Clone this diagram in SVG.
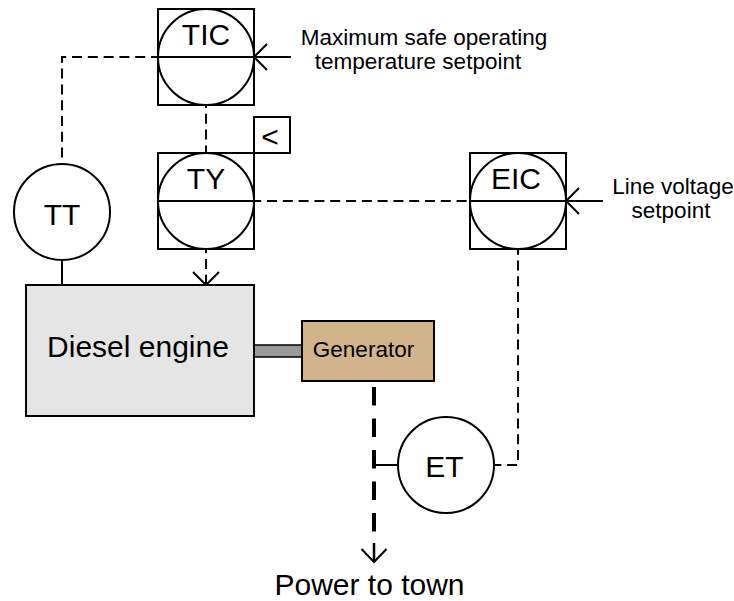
<svg xmlns="http://www.w3.org/2000/svg" width="734" height="601" viewBox="0 0 734 601">
<style>
.s{fill:none;stroke:#000;stroke-width:2}
.n{fill:#fff;stroke:#000;stroke-width:2}
.d{fill:none;stroke:#000;stroke-width:2;stroke-dasharray:10 5.800}
.t{font-family:"Liberation Sans",Arial,sans-serif;fill:#000;text-anchor:middle}
.b{font-size:30px}
.m{font-size:22.500px}
</style>
<rect width="734" height="601" fill="#fff"/>
<g id="connectors">
<path class="d" stroke-dashoffset="3" d="M158 57H62V164"/>
<path class="d" stroke-dashoffset="7" d="M206 105V153"/>
<path class="d" stroke-dashoffset="2.800" d="M254 201H470"/>
<path class="d" stroke-dashoffset="5.800" d="M206 249V285"/>
<path class="s" d="M193 272L206 285L219 272"/>
<path class="s" d="M62 260V285"/>
<path class="s" d="M254 57H291M267 44L254 57L267 70"/>
<path class="s" d="M566 201H603M579 188L566 201L579 214"/>
<path class="d" stroke-dashoffset="2.700" d="M494 465H518V249"/>
<path class="s" d="M374 465H398"/>
<path d="M374 387V532" fill="none" stroke="#000" stroke-width="4" stroke-dasharray="18.500 13"/>
<path d="M374 543V562" fill="none" stroke="#000" stroke-width="2.500"/>
<path class="s" d="M361.500 549L374 562L386.500 549"/>
</g>
<g id="TIC">
<rect class="n" x="158" y="9" width="96" height="96"/>
<circle class="n" cx="206" cy="57" r="48"/>
<path class="s" d="M158 57H254"/>
<text class="t b" x="206" y="45">TIC</text>
</g>
<g id="TY">
<rect class="n" x="158" y="153" width="96" height="96"/>
<circle class="n" cx="206" cy="201" r="48"/>
<path class="s" d="M158 201H254"/>
<text class="t b" x="206" y="189">TY</text>
</g>
<g id="less-than">
<rect class="n" x="254" y="117" width="36" height="36"/>
<text class="t b" x="270" y="147">&lt;</text>
</g>
<g id="EIC">
<rect class="n" x="470" y="153" width="96" height="96"/>
<circle class="n" cx="518" cy="201" r="48"/>
<path class="s" d="M470 201H566"/>
<text class="t b" x="516" y="189">EIC</text>
</g>
<g id="TT">
<circle class="n" cx="62" cy="212" r="48"/>
<text class="t b" x="62" y="225">TT</text>
</g>
<g id="ET">
<circle class="n" cx="446" cy="465" r="48"/>
<text class="t b" x="444.500" y="477">ET</text>
</g>
<g id="shaft">
<rect x="254" y="345" width="48" height="12" fill="#999" stroke="#000" stroke-width="1.500"/>
</g>
<g id="engine">
<rect x="26" y="285" width="228" height="131" fill="#e5e5e5" stroke="#000" stroke-width="2"/>
<text class="t b" x="138" y="357">Diesel engine</text>
</g>
<g id="generator">
<rect x="302" y="321" width="132" height="60" fill="#d2b48c" stroke="#000" stroke-width="2"/>
<text class="t m" x="363.500" y="357">Generator</text>
</g>
<g id="labels">
<text class="t m" x="424" y="45">Maximum safe operating</text>
<text class="t m" x="418" y="69">temperature setpoint</text>
<text class="t m" x="673" y="194">Line voltage</text>
<text class="t m" x="671" y="218">setpoint</text>
<text class="t b" x="369.500" y="595">Power to town</text>
</g>
</svg>
